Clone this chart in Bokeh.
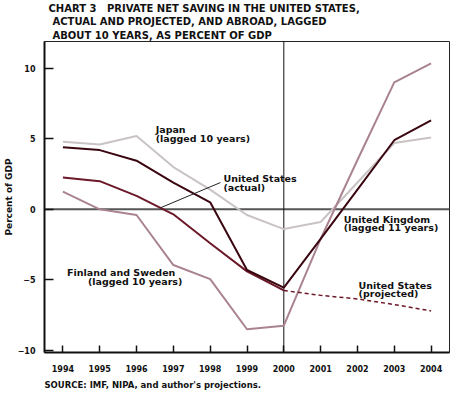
from bokeh.plotting import figure
from bokeh.models import Range1d, FixedTicker, Span, Label, Title
from bokeh.embed import file_html
from bokeh.resources import INLINE

years = [1994, 1995, 1996, 1997, 1998, 1999, 2000, 2001, 2002, 2003, 2004]
years_actual = [1994, 1995, 1996, 1997, 1998, 1999, 2000]
years_proj = [2000, 2001, 2002, 2003, 2004]

japan = [4.8, 4.6, 5.2, 3.0, 1.4, -0.4, -1.4, -0.9, 1.9, 4.7, 5.1]
uk = [4.4, 4.2, 3.45, 1.9, 0.5, -4.3, -5.55, -2.1, 1.4, 4.9, 6.3]
us_actual = [2.25, 2.0, 0.95, -0.35, -2.4, -4.4, -5.75]
us_proj = [-5.75, -6.1, -6.35, -6.75, -7.2]
finland_sweden = [1.25, 0.0, -0.4, -3.95, -4.95, -8.5, -8.25, -2.1, 3.5, 9.0, 10.35]

y_ticks = [-10, -5, 0, 5, 10]
y_tick_labels = {-10: "\u221210", -5: "\u22125", 0: "0", 5: "5", 10: "10"}

title_lines = [
    "CHART 3\u00a0\u00a0\u00a0PRIVATE NET SAVING IN THE UNITED STATES,",
    "ACTUAL AND PROJECTED, AND ABROAD, LAGGED",
    "ABOUT 10 YEARS, AS PERCENT OF GDP",
]
source_text = "SOURCE: IMF, NIPA, and author's projections."

FONT = "DejaVu Sans"

p = figure(width=450, height=393, output_backend="svg", toolbar_location=None,
           title=None, x_range=Range1d(1993.5, 2004.5), y_range=Range1d(-10.15, 11.9),
           min_border_left=44, min_border_right=1, min_border_top=40, min_border_bottom=41)
p.background_fill_color = "white"
p.border_fill_color = "white"
p.outline_line_color = "#222222"
p.outline_line_width = 1
p.grid.visible = False

# titles (last added is outermost)
offsets = [4, 8, 8]
standoffs = [0, 0, 2]
for txt, off, so in reversed(list(zip(title_lines, offsets, standoffs))):
    p.add_layout(Title(text=txt, align="left", offset=off, standoff=so,
                       text_font=FONT, text_font_size="10px", text_font_style="bold",
                       text_color="#111111"), "above")

p.add_layout(Title(text=source_text, align="left", offset=0, standoff=7,
                   text_font=FONT, text_font_size="8.5px", text_font_style="bold",
                   text_color="#111111"), "below")

# axes
p.xaxis.ticker = FixedTicker(ticks=years)
p.yaxis.ticker = FixedTicker(ticks=y_ticks)
p.yaxis.major_label_overrides = y_tick_labels
for ax in (p.xaxis, p.yaxis):
    ax.axis_line_width = 2
    ax.axis_line_color = "#111111"
    ax.major_tick_out = 0
    ax.minor_tick_out = 0
    ax.minor_tick_in = 0
    ax.major_tick_line_color = "#111111"
    ax.major_tick_line_width = 1.5
    ax.major_label_text_font = FONT
    ax.major_label_text_font_style = "bold"
    ax.major_label_text_font_size = "8px"
    ax.major_label_text_color = "#111111"
p.xaxis.major_tick_in = 7
p.yaxis.major_tick_in = 9
p.xaxis.major_label_standoff = 12
p.yaxis.major_label_standoff = 9
p.yaxis.axis_label = "Percent of GDP"
p.yaxis.axis_label_text_font = FONT
p.yaxis.axis_label_text_font_style = "bold"
p.yaxis.axis_label_text_font_size = "9px"
p.yaxis.axis_label_text_color = "#111111"
p.yaxis.axis_label_standoff = 1

# reference lines
p.add_layout(Span(location=0, dimension="width", line_color="#555555", line_width=2, level="underlay"))
p.add_layout(Span(location=2000, dimension="height", line_color="#111111", line_width=1, level="underlay"))

# series
p.line(years, japan, line_color="#c9c3c4", line_width=2)
p.line(years, finland_sweden, line_color="#a9838f", line_width=2)
p.line(years_actual, us_actual, line_color="#6b1829", line_width=2)
p.line(years_proj, us_proj, line_color="#6b1829", line_width=1.5, line_dash="4 3")
p.line(years, uk, line_color="#3a0610", line_width=2)

# leader line for US actual
p.line([1996.66, 1998.28], [0.12, 1.9], line_color="#222222", line_width=1)

labels = [
    (1996.52, 5.63, "Japan"),
    (1996.52, 5.0, "(lagged 10 years)"),
    (1998.36, 2.2, "United States"),
    (1998.36, 1.57, "(actual)"),
    (2001.63, -0.7, "United Kingdom"),
    (2001.63, -1.3, "(lagged 11 years)"),
    (2002.03, -5.4, "United States"),
    (2002.03, -6.0, "(projected)"),
    (1994.11, -4.48, "Finland and Sweden"),
    (1994.68, -5.12, "(lagged 10 years)"),
]
for x, y, t in labels:
    p.add_layout(Label(x=x, y=y, text=t, text_font=FONT, text_font_style="bold",
                       text_font_size="9.5px", text_baseline="middle", text_align="left",
                       text_color="#111111"))

open("out.html", "w").write(file_html(p, INLINE))
